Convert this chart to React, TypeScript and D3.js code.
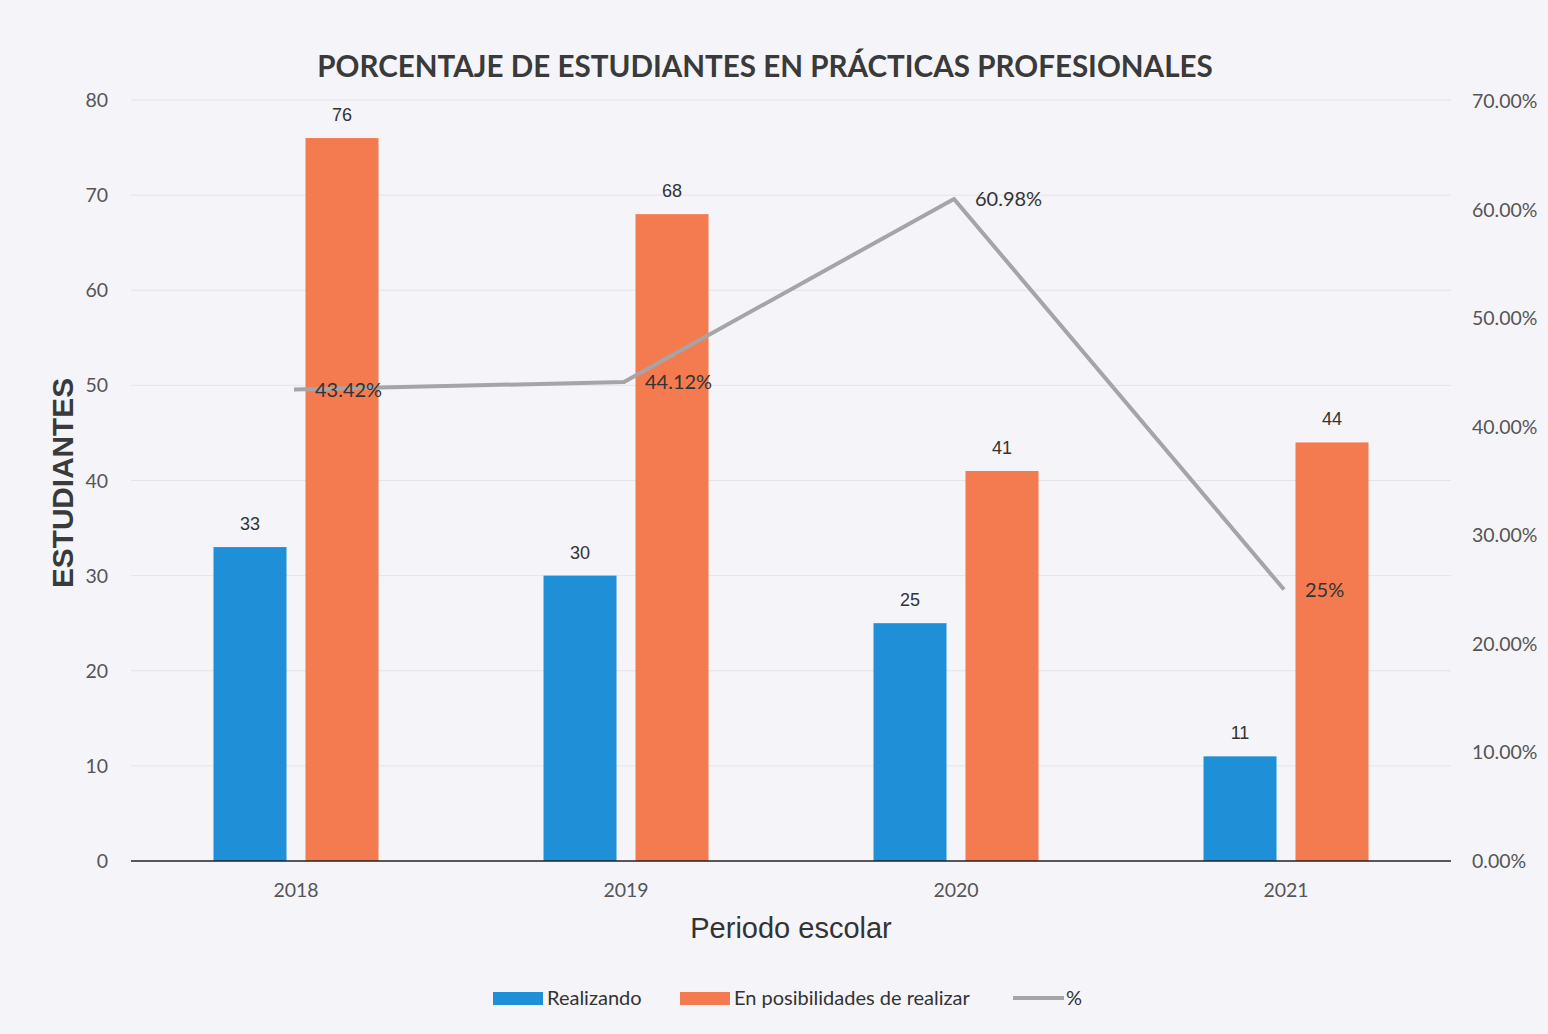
import React from "react";
import * as d3 from "d3";

const years = ["2018", "2019", "2020", "2021"];
const realizando = [33, 30, 25, 11];
const posibilidades = [76, 68, 41, 44];
const porcentaje = [43.42, 44.12, 60.98, 25];
const porcentajeLabels = ["43.42%", "44.12%", "60.98%", "25%"];
const leftTicks = [0, 10, 20, 30, 40, 50, 60, 70, 80];
const rightTicks = [0, 10, 20, 30, 40, 50, 60, 70];

const W = 1548;
const H = 1034;
const BLUE = "#1f8fd7";
const ORANGE = "#f47b4f";
const GRAY = "#a5a5a8";
const TICK = "#555";

export default function App() {
  const x = d3.scaleBand<string>().domain(years).range([131, 1451]).paddingInner(0).paddingOuter(0);
  const yL = d3.scaleLinear().domain([0, 80]).range([861, 100]);
  const yR = d3.scaleLinear().domain([0, 70]).range([861, 101]);
  const sub = d3.scaleBand<string>().domain(["r", "p"]).range([0, x.bandwidth()]).paddingInner(0.2065).paddingOuter(0.897);
  const barW = sub.bandwidth();
  const line = d3
    .line<number>()
    .x((_, i) => (x(years[i]) as number) + x.bandwidth() / 2 - 2)
    .y((d) => yR(d));
  const font = "Lato, 'Open Sans', sans-serif";
  const arial = "'Liberation Sans', Arial, sans-serif";

  return (
    <svg
      width={W}
      height={H}
      style={{ position: "absolute", left: 0, top: 0, display: "block" }}
      fontFamily={font}
    >
      <rect x={0} y={0} width={W} height={H} fill="#f5f4f9" />
      <text x={765} y={77} textAnchor="middle" fontSize={29.6} fontWeight="bold" fill="#3a3a3a">
        PORCENTAJE DE ESTUDIANTES EN PRÁCTICAS PROFESIONALES
      </text>
      {leftTicks.slice(1).map((t) => (
        <line key={"g" + t} x1={131} x2={1451} y1={yL(t)} y2={yL(t)} stroke="#e4e3e8" strokeWidth={1} />
      ))}
      {leftTicks.map((t) => (
        <text key={"l" + t} x={108} y={yL(t) + 7} textAnchor="end" fontSize={19.5} fill={TICK}>
          {t}
        </text>
      ))}
      {rightTicks.map((t) => (
        <text key={"r" + t} x={1472} y={yR(t) + 7} textAnchor="start" fontSize={19.5} fill={TICK}>
          {t.toFixed(2) + "%"}
        </text>
      ))}
      {years.map((yr, i) => {
        const x0 = x(yr) as number;
        return (
          <g key={yr}>
            <rect x={x0 + (sub("r") as number)} y={yL(realizando[i])} width={barW} height={861 - yL(realizando[i])} fill={BLUE} />
            <rect x={x0 + (sub("p") as number)} y={yL(posibilidades[i])} width={barW} height={861 - yL(posibilidades[i])} fill={ORANGE} />
            <text x={x0 + (sub("r") as number) + barW / 2} y={yL(realizando[i]) - 17} textAnchor="middle" fontSize={18} fill="#333" fontFamily={arial}>
              {realizando[i]}
            </text>
            <text x={x0 + (sub("p") as number) + barW / 2} y={yL(posibilidades[i]) - 17} textAnchor="middle" fontSize={18} fill="#333" fontFamily={arial}>
              {posibilidades[i]}
            </text>
            <text x={x0 + x.bandwidth() / 2} y={897} textAnchor="middle" fontSize={19.5} fill={TICK}>
              {yr}
            </text>
          </g>
        );
      })}
      <line x1={131} x2={1451} y1={861} y2={861} stroke="#222" strokeWidth={1.5} />
      <path d={line(porcentaje) || ""} fill="none" stroke={GRAY} strokeWidth={4} strokeLinejoin="round" />
      {porcentaje.map((p, i) => (
        <text key={"p" + i} x={(x(years[i]) as number) + x.bandwidth() / 2 + 19} y={yR(p) + 7} fontSize={20} fill="#333">
          {porcentajeLabels[i]}
        </text>
      ))}
      <text
        transform={`translate(73,483) rotate(-90)`}
        textAnchor="middle"
        fontSize={29}
        fontWeight="bold"
        fill="#3a3a3a"
        fontFamily={arial}
        textLength={210}
        lengthAdjust="spacingAndGlyphs"
      >
        ESTUDIANTES
      </text>
      <text x={791} y={938} textAnchor="middle" fontSize={29} fill="#333" fontFamily={arial}>
        Periodo escolar
      </text>
      <g fontSize={20} fill="#333">
        <rect x={493} y={992} width={50} height={13} fill={BLUE} />
        <text x={547} y={1005}>Realizando</text>
        <rect x={680} y={992} width={50} height={13} fill={ORANGE} />
        <text x={734} y={1005}>En posibilidades de realizar</text>
        <line x1={1013} x2={1064} y1={998} y2={998} stroke={GRAY} strokeWidth={4} />
        <text x={1066} y={1005}>%</text>
      </g>
    </svg>
  );
}
